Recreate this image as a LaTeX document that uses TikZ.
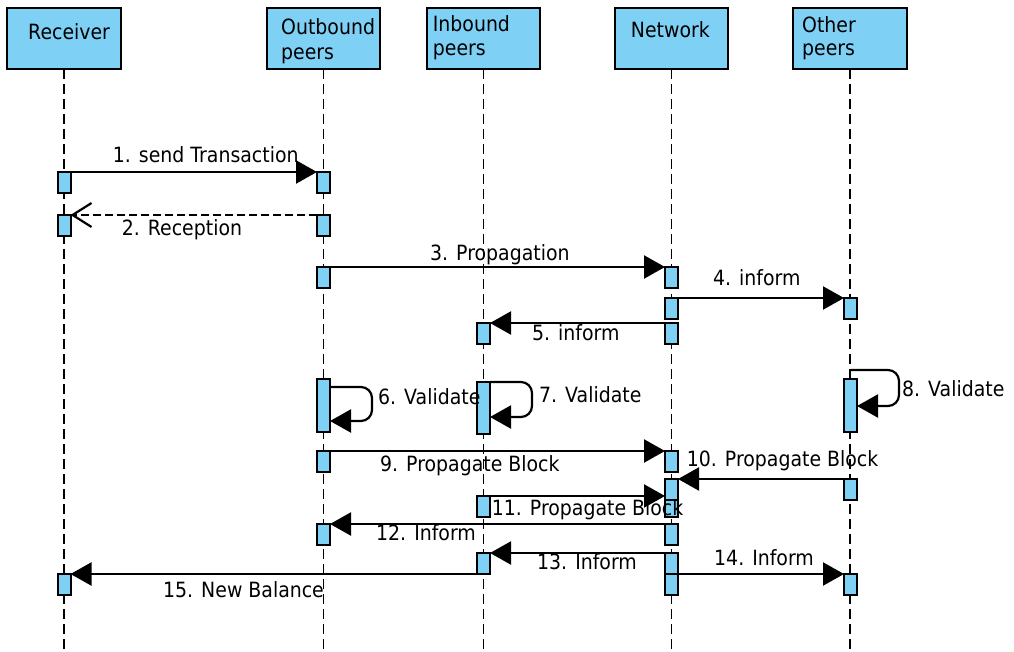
\documentclass[tikz,border=0pt]{standalone}
\usepackage{fontspec}
\setmainfont{DejaVu Sans}[FakeStretch=0.9]
\usetikzlibrary{arrows.meta}
\definecolor{sky}{RGB}{127,208,245}
\begin{document}
\begin{tikzpicture}[x=1pt,y=-1pt,
  hdr/.style={draw,fill=sky,line width=2pt,minimum width=113pt,minimum height=61pt,anchor=north west,inner sep=0,outer sep=0},
  txt/.style={inner sep=0,anchor=base west,font=\fontsize{21}{25}\selectfont},
  act/.style={draw,fill=sky,line width=2pt,minimum width=13pt,minimum height=21pt,inner sep=0,outer sep=0,anchor=north},
  life/.style={line width=1.6pt,dash pattern=on 10pt off 5pt},
  msg/.style={line width=2.2pt,-{Triangle[length=21pt,width=23pt]}},
  ret/.style={line width=2.2pt,dash pattern=on 8pt off 4pt,-{Straight Barb[length=19pt,width=24pt,line width=2.2pt]}},
  loopy/.style={msg,rounded corners=11pt}]
\useasboundingbox (0,0) rectangle (1014,652);
\coordinate (bot) at (0,652);
% headers
\node[hdr,minimum width=114pt] (hR) at (7,8) {};
\node[hdr] (hO) at (267,8) {};
\node[hdr] (hI) at (427,8) {};
\node[hdr] (hN) at (615,8) {};
\node[hdr,minimum width=114pt] (hT) at (793,8) {};
\node[txt] (tR) at (28,40) {Receiver};
\node[txt] (tO1) at (281,35) {Outbound};
\node[txt] (tO2) at (281,59.5) {peers};
\node[txt] (tI1) at (432.7,31.7) {Inbound};
\node[txt] (tI2) at (432.7,56) {peers};
\node[txt] (tN) at (630.7,37.7) {Network};
\node[txt] (tT1) at (802,32.3) {Other};
\node[txt] (tT2) at (802,56) {peers};
% lifelines
\foreach \h in {hR,hO,hI,hN,hT}
  \draw[life] (\h.south) -- (\h.south |- bot);
% activation boxes
\node[act] (r1) at (64,172) {};
\node[act] (r2) at (64,215) {};
\node[act] (r15) at (64,574) {};
\node[act] (o1) at (323.5,172) {};
\node[act] (o2) at (323.5,215) {};
\node[act] (o3) at (323.5,267) {};
\node[act,minimum height=53pt] (o6) at (323.5,379) {};
\node[act] (o9) at (323.5,451) {};
\node[act] (o12) at (323.5,524) {};
\node[act] (i5) at (483.5,323) {};
\node[act,minimum height=52pt] (i7) at (483.5,382) {};
\node[act] (i11) at (483.5,496) {};
\node[act] (i13) at (483.5,553) {};
\node[act] (n3) at (671.5,267) {};
\node[act] (n4) at (671.5,298) {};
\node[act] (n5) at (671.5,323) {};
\node[act] (n9) at (671.5,451) {};
\node[act] (n11) at (671.5,496) {};
\node[act] (n10) at (671.5,479) {};
\node[act] (n12) at (671.5,524) {};
\node[act] (n13) at (671.5,553) {};
\node[act] (n14) at (671.5,574) {};
\node[act] (t4) at (850.5,298) {};
\node[act,minimum height=53pt] (t8) at (850.5,379) {};
\node[act] (t10) at (850.5,479) {};
\node[act] (t14) at (850.5,574) {};
% messages
\draw[msg] (r1.north east) -- (o1.north west);
\draw[ret] (o2.north west) -- (r2.north east);
\draw[msg] (o3.north east) -- (n3.north west);
\draw[msg] (n4.north east) -- (t4.north west);
\draw[msg] (n5.north west) -- (i5.north east);
\draw[loopy] (o6.east |- 0,387) -- (372,387) -- (372,421) -- (o6.east |- 0,421);
\draw[loopy] (i7.north east) -- (532,382) -- (532,417) -- (i7.east |- 0,417);
\coordinate (l8) at (850.5,370);
\draw[loopy] (l8) -- (899,370) -- (899,406) -- (t8.east |- 0,406);
\draw[msg] (o9.north east) -- (n9.north west);
\draw[msg] (t10.north west) -- (n10.north east);
\draw[msg] (i11.north east) -- (n11.north west);
\draw[msg] (n12.north west) -- (o12.north east);
\draw[msg] (n13.north west) -- (i13.north east);
\draw[msg] (n14.north east) -- (t14.north west);
\draw[msg] (i13.south west) -- (r15.north east);
% labels
\node[txt] (m1) at (112.7,162.7) {1. send Transaction};
\node[txt] (m2) at (121.7,236) {2. Reception};
\node[txt] (m3) at (430,260.7) {3. Propagation};
\node[txt] (m4) at (713,285.7) {4. inform};
\node[txt] (m5) at (532,340.7) {5. inform};
\node[txt] (m6) at (378,404.3) {6. Validate};
\node[txt] (m7) at (539,402.7) {7. Validate};
\node[txt] (m8) at (902,396) {8. Validate};
\node[txt] (m9) at (380,471.7) {9. Propagate Block};
\node[txt] (m10) at (686.7,466) {10. Propagate Block};
\node[txt] (m11) at (491.7,515) {11. Propagate Block};
\node[txt] (m12) at (376,540.7) {12. Inform};
\node[txt] (m13) at (537,569.3) {13. Inform};
\node[txt] (m14) at (714,565) {14. Inform};
\node[txt] (m15) at (163,597.3) {15. New Balance};
\end{tikzpicture}
\end{document}
